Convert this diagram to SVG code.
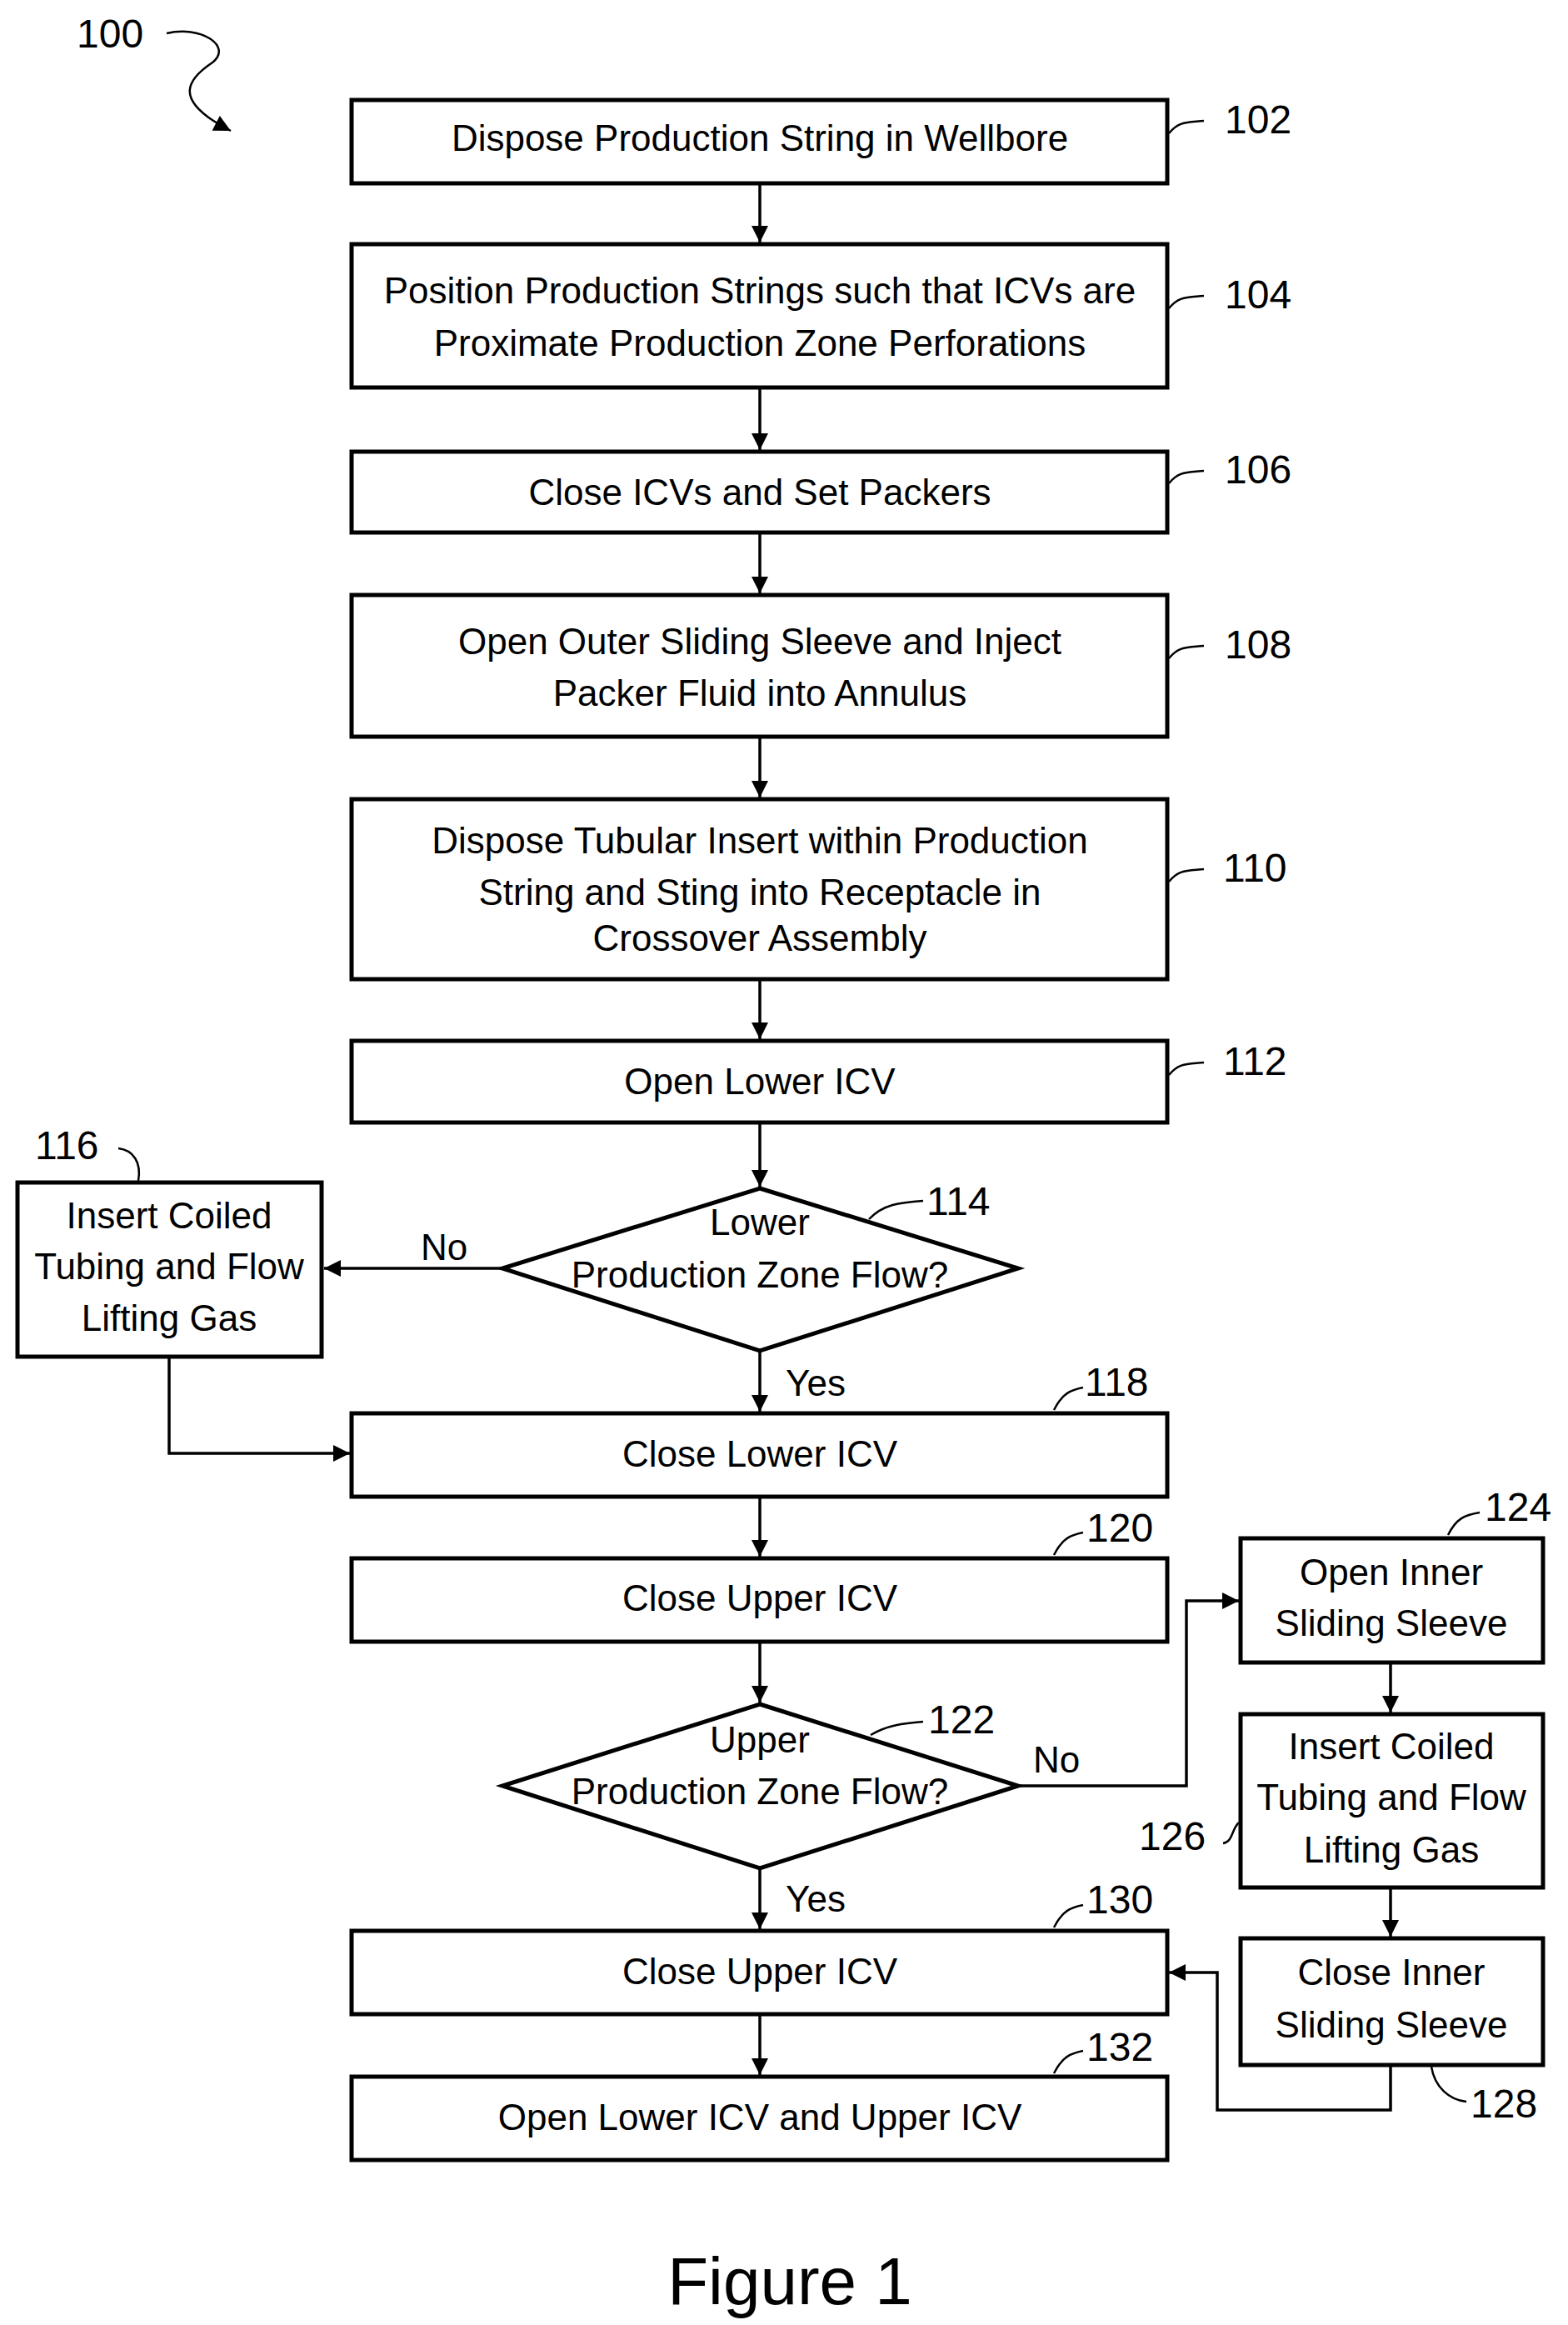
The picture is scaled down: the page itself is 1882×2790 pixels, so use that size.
<svg xmlns="http://www.w3.org/2000/svg" width="1882" height="2790" viewBox="0 0 1882 2790">
<style>
.b{fill:#fff;stroke:#000;stroke-width:5}
.t{font-family:"Liberation Sans",Arial,sans-serif;font-size:44px;text-anchor:middle;fill:#000}
.n{font-family:"Liberation Sans",Arial,sans-serif;font-size:48px;fill:#000}
.c{fill:none;stroke:#000;stroke-width:3.5}
.l{fill:none;stroke:#000;stroke-width:2.5}
</style>
<defs>
<marker id="h" viewBox="0 0 10 10" refX="10" refY="5" markerWidth="22" markerHeight="20" orient="auto" markerUnits="userSpaceOnUse"><path d="M0,0 L10,5 L0,10 Z"/></marker></defs>
<g id="connectors">
<path class="c" marker-end="url(#h)" d="M912,222 V291"/>
<path class="c" marker-end="url(#h)" d="M912,467 V540"/>
<path class="c" marker-end="url(#h)" d="M912,641 V712"/>
<path class="c" marker-end="url(#h)" d="M912,886 V957"/>
<path class="c" marker-end="url(#h)" d="M912,1177 V1247"/>
<path class="c" marker-end="url(#h)" d="M912,1349 V1424"/>
<path class="c" marker-end="url(#h)" d="M912,1621 V1694"/>
<path class="c" marker-end="url(#h)" d="M603,1522 H389"/>
<path class="c" marker-end="url(#h)" d="M203,1630 V1744 H420"/>
<path class="c" marker-end="url(#h)" d="M912,1798 V1868"/>
<path class="c" marker-end="url(#h)" d="M912,1972 V2043"/>
<path class="c" marker-end="url(#h)" d="M1222,2143 H1424 V1921 H1487"/>
<path class="c" marker-end="url(#h)" d="M1669,1997 V2055"/>
<path class="c" marker-end="url(#h)" d="M1669,2267 V2324"/>
<path class="c" marker-end="url(#h)" d="M912,2242 V2315"/>
<path class="c" marker-end="url(#h)" d="M1669,2480 V2532 H1461 V2367 H1403"/>
<path class="c" marker-end="url(#h)" d="M912,2419 V2490"/>
</g>
<g id="n100"><text class="n" x="92" y="57">100</text><path class="l" marker-end="url(#h)" d="M200,40 C240,30 280,55 255,75 C225,95 205,120 277,157"/></g>
<g id="n102"><rect class="b" x="422" y="120" width="979" height="100"/><text class="t" x="912" y="181">Dispose Production String in Wellbore</text><path class="l" d="M1403,160 C1415,145 1425,147 1445,145"/><text class="n" x="1470" y="160">102</text></g>
<g id="n104"><rect class="b" x="422" y="293" width="979" height="172"/><text class="t" x="912" y="364">Position Production Strings such that ICVs are</text><text class="t" x="912" y="427">Proximate Production Zone Perforations</text><path class="l" d="M1403,370 C1415,355 1425,357 1445,355"/><text class="n" x="1470" y="370">104</text></g>
<g id="n106"><rect class="b" x="422" y="542" width="979" height="97"/><text class="t" x="912" y="606">Close ICVs and Set Packers</text><path class="l" d="M1403,580 C1415,565 1425,567 1445,565"/><text class="n" x="1470" y="580">106</text></g>
<g id="n108"><rect class="b" x="422" y="714" width="979" height="170"/><text class="t" x="912" y="785">Open Outer Sliding Sleeve and Inject</text><text class="t" x="912" y="847">Packer Fluid into Annulus</text><path class="l" d="M1403,790 C1415,775 1425,777 1445,775"/><text class="n" x="1470" y="790">108</text></g>
<g id="n110"><rect class="b" x="422" y="959" width="979" height="216"/><text class="t" x="912" y="1024">Dispose Tubular Insert within Production</text><text class="t" x="912" y="1086">String and Sting into Receptacle in</text><text class="t" x="912" y="1141">Crossover Assembly</text><path class="l" d="M1403,1058 C1415,1043 1425,1045 1445,1043"/><text class="n" x="1468" y="1058">110</text></g>
<g id="n112"><rect class="b" x="422" y="1249" width="979" height="98"/><text class="t" x="912" y="1313">Open Lower ICV</text><path class="l" d="M1403,1290 C1415,1275 1425,1277 1445,1275"/><text class="n" x="1468" y="1290">112</text></g>
<g id="n114"><polygon class="b" points="912,1426 1222,1522 912,1621 603,1522"/><text class="t" x="912" y="1482">Lower</text><text class="t" x="912" y="1545">Production Zone Flow?</text><path class="l" d="M1043,1463 C1060,1445 1080,1443 1108,1441"/><text class="n" x="1112" y="1458">114</text><text class="t" x="533" y="1512">No</text><text class="t" x="979" y="1675">Yes</text></g>
<g id="n116"><rect class="b" x="21" y="1419" width="365" height="209"/><text class="t" x="203" y="1474">Insert Coiled</text><text class="t" x="203" y="1535">Tubing and Flow</text><text class="t" x="203" y="1597">Lifting Gas</text><path class="l" d="M166,1417 C170,1395 160,1380 142,1378"/><text class="n" x="42" y="1391">116</text></g>
<g id="n118"><rect class="b" x="422" y="1696" width="979" height="100"/><text class="t" x="912" y="1760">Close Lower ICV</text><path class="l" d="M1265,1692 C1275,1672 1285,1668 1300,1665"/><text class="n" x="1302" y="1675">118</text></g>
<g id="n120"><rect class="b" x="422" y="1870" width="979" height="100"/><text class="t" x="912" y="1933">Close Upper ICV</text><path class="l" d="M1265,1866 C1275,1846 1285,1842 1300,1839"/><text class="n" x="1304" y="1850">120</text></g>
<g id="n122"><polygon class="b" points="912,2045 1222,2143 912,2242 603,2143"/><text class="t" x="912" y="2103">Upper</text><text class="t" x="912" y="2165">Production Zone Flow?</text><path class="l" d="M1045,2082 C1065,2070 1085,2068 1108,2066"/><text class="n" x="1114" y="2080">122</text><text class="t" x="1268" y="2127">No</text><text class="t" x="979" y="2294">Yes</text></g>
<g id="n124"><rect class="b" x="1489" y="1846" width="363" height="149"/><text class="t" x="1670" y="1902">Open Inner</text><text class="t" x="1670" y="1963">Sliding Sleeve</text><path class="l" d="M1738,1842 C1748,1822 1758,1818 1776,1815"/><text class="n" x="1782" y="1825">124</text></g>
<g id="n126"><rect class="b" x="1489" y="2057" width="363" height="208"/><text class="t" x="1670" y="2111">Insert Coiled</text><text class="t" x="1670" y="2172">Tubing and Flow</text><text class="t" x="1670" y="2235">Lifting Gas</text><path class="l" d="M1487,2187 C1478,2195 1480,2210 1468,2212"/><text class="n" x="1367" y="2220">126</text></g>
<g id="n128"><rect class="b" x="1489" y="2326" width="363" height="152"/><text class="t" x="1670" y="2382">Close Inner</text><text class="t" x="1670" y="2445">Sliding Sleeve</text><path class="l" d="M1718,2480 C1722,2505 1740,2520 1760,2522"/><text class="n" x="1765" y="2541">128</text></g>
<g id="n130"><rect class="b" x="422" y="2317" width="979" height="100"/><text class="t" x="912" y="2381">Close Upper ICV</text><path class="l" d="M1265,2313 C1275,2293 1285,2289 1300,2286"/><text class="n" x="1304" y="2296">130</text></g>
<g id="n132"><rect class="b" x="422" y="2492" width="979" height="100"/><text class="t" x="912" y="2556">Open Lower ICV and Upper ICV</text><path class="l" d="M1265,2488 C1275,2468 1285,2464 1300,2461"/><text class="n" x="1304" y="2473">132</text></g>
<text x="948" y="2765" style="font-family:'Liberation Sans',Arial,sans-serif;font-size:80px;text-anchor:middle">Figure 1</text>
</svg>
